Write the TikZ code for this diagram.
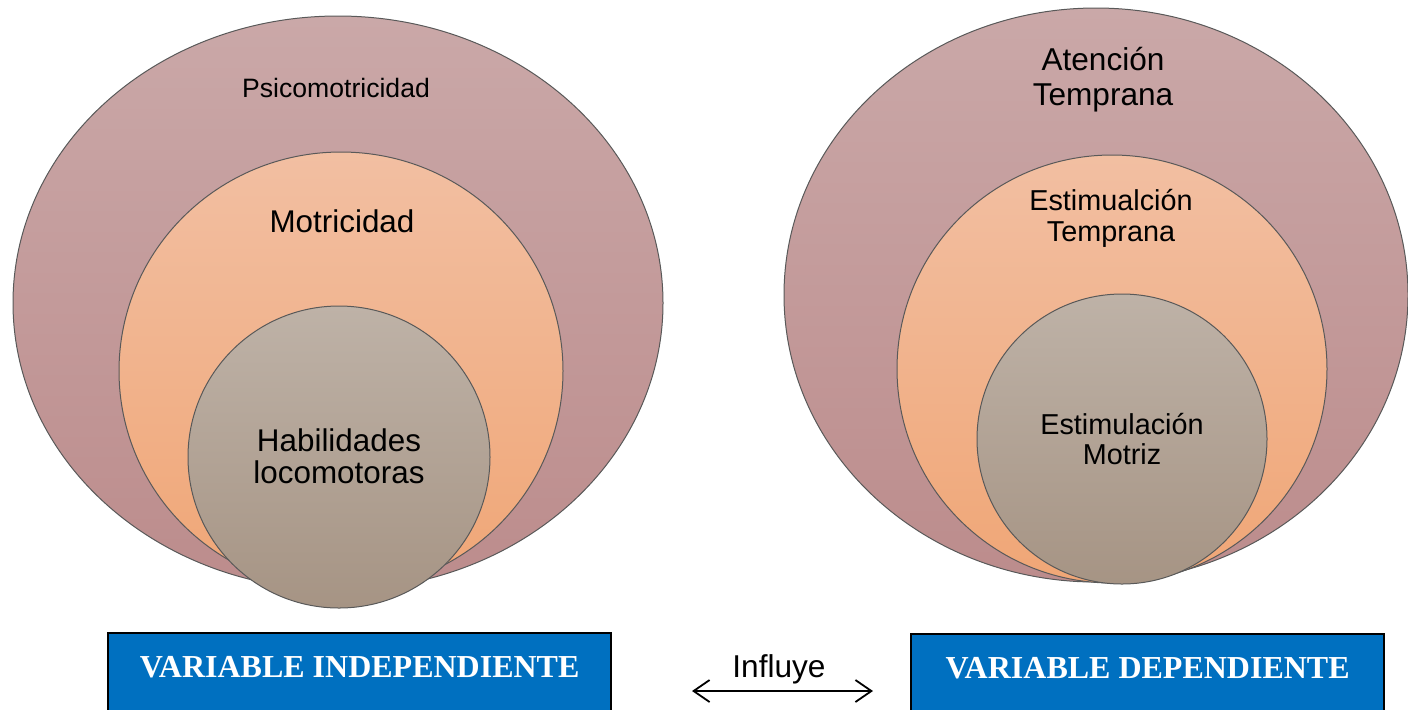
\documentclass[tikz,border=0pt]{standalone}
\usepackage{fontspec}
\setmainfont{Liberation Sans}
\newfontfamily\serifbold{Liberation Serif}
\usetikzlibrary{arrows.meta,positioning,shapes.geometric}
\tikzset{
  every picture/.append style={line width=0.6pt},
  ring/.style={ellipse, draw=black!65, line width=0.5pt, inner sep=0pt},
  lbl/.style={align=center, inner sep=0pt, text=black},
  varbox/.style={rectangle, draw=black, line width=1.2pt, fill=varblue, inner xsep=0pt, inner ysep=0pt,
    text=white, font=\serifbold\bfseries\fontsize{16}{18}\selectfont, text height=22pt, text depth=34pt}
}

\begin{document}
\begin{tikzpicture}[x=0.5pt, y=-0.5pt,
  link/.style={{Straight Barb[length=8pt,width=11pt]}-{Straight Barb[length=8pt,width=11pt]}, line width=0.9pt}
]

% --- Colors ---
\definecolor{outertop}{RGB}{202,168,168}
\definecolor{outerbot}{RGB}{188,140,140}
\definecolor{midtop}{RGB}{242,191,162}
\definecolor{midbot}{RGB}{240,166,118}
\definecolor{innertop}{RGB}{190,178,167}
\definecolor{innerbot}{RGB}{166,148,132}
\definecolor{varblue}{RGB}{0,112,192}

\useasboundingbox (0,0) rectangle (1408,709);

% --- Independent variable (left) ---
\node[ring, top color=outertop, bottom color=outerbot, minimum width=325pt, minimum height=287pt] (psicoring) at (338,303) {};
\node[ring, top color=midtop, bottom color=midbot, minimum width=222pt, minimum height=219pt] (motring) at (341,371) {};
\node[ring, top color=innertop, bottom color=innerbot, minimum width=151pt, minimum height=151pt] (habring) at (339,457) {};

\node[lbl, font=\fontsize{13.3}{15}\selectfont] (psico) at (336,88) {Psicomotricidad};
\node[lbl, font=\fontsize{15.7}{17}\selectfont] (motri) at (342,221) {Motricidad};
\node[lbl, font=\fontsize{15.7}{16}\selectfont] (habil) at (339,456) {Habilidades\\locomotoras};

% --- Dependent variable (right) ---
\node[ring, top color=outertop, bottom color=outerbot, minimum width=312pt, minimum height=287pt] (atenring) at (1096,295) {};
\node[ring, top color=midtop, bottom color=midbot, minimum width=215pt, minimum height=214pt] (estring) at (1112,369) {};
\node[ring, top color=innertop, bottom color=innerbot, minimum width=145pt, minimum height=145pt] (motrizring) at (1122,439) {};

\node[lbl, font=\fontsize{15.8}{17.5}\selectfont] (aten) at (1103,80) {Atención\\Temprana};
\node[lbl, font=\fontsize{14.4}{15.5}\selectfont] (estim) at (1111,218) {Estimualción\\Temprana};
\node[lbl, font=\fontsize{14.4}{15}\selectfont] (motriz) at (1122,439) {Estimulación\\Motriz};

% --- Variable boxes ---
\node[varbox, anchor=north west, minimum width=251.5pt] (indep) at (107,632) {VARIABLE INDEPENDIENTE};
\node[varbox, anchor=north west, minimum width=236.5pt] (dep) at (910,633) {VARIABLE DEPENDIENTE};

% --- Influence arrow ---
\coordinate (infl) at (692,691);
\coordinate (infr) at (873,691);
\draw[link] (infl) -- (infr);
\node[lbl, font=\fontsize{15.8}{17}\selectfont] (influye) at (779,669) {Influye};

\end{tikzpicture}
\end{document}
